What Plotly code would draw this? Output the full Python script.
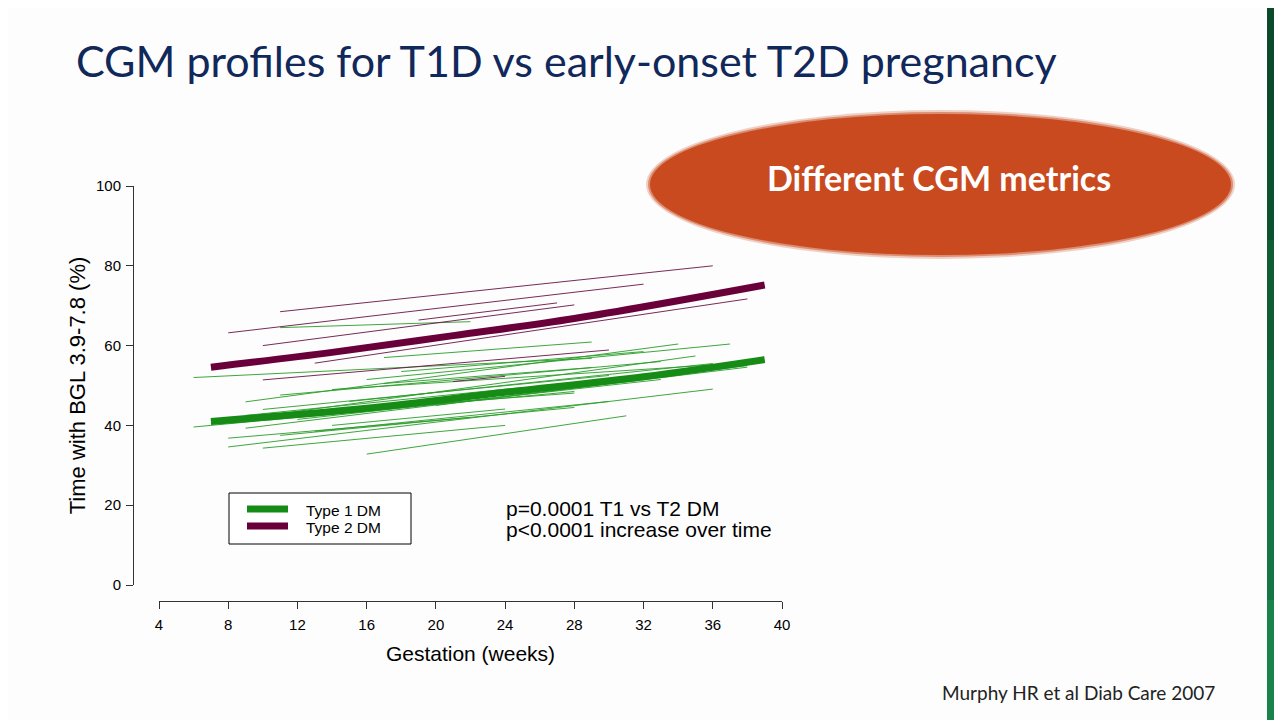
import plotly.graph_objects as go

# mean time in range (3.9-7.8 mmol/L) across gestation
t1_mean_weeks = [7, 16, 24, 32, 39]
t1_mean_tir = [41.0, 44.3, 48.3, 52.2, 56.5]
t2_mean_weeks = [7, 14, 21, 28, 39]
t2_mean_tir = [54.6, 58.3, 62.5, 66.8, 75.2]

# individual women: first / last week monitored and time in range at each end
t1_start_week = [6, 6, 9, 16, 11, 8, 8, 10, 16, 9, 7, 12, 14, 10, 12, 18, 11, 15, 9, 13, 17, 20, 14, 17, 11]
t1_start_tir = [52.0, 39.6, 45.9, 51.5, 47.6, 36.8, 34.6, 34.3, 32.8, 39.3, 40.5, 43.0, 49.0, 44.0, 41.5, 53.5, 37.5, 46.0, 42.5, 38.5, 50.5, 45.0, 40.0, 57.0, 64.5]
t1_end_week = [29, 28, 34, 37, 33, 22, 36, 24, 31, 38, 35, 28, 39, 30, 33, 32, 28, 36, 25, 30, 29, 38, 24, 29, 22]
t1_end_tir = [56.8, 48.5, 60.4, 60.4, 56.0, 42.0, 49.1, 40.0, 42.4, 54.6, 57.4, 48.1, 56.0, 52.5, 51.5, 58.5, 44.5, 55.5, 49.5, 46.0, 54.5, 55.0, 44.1, 60.9, 66.0]

t2_start_week = [11, 8, 10, 19, 10, 13, 21]
t2_start_tir = [68.5, 63.2, 60.0, 66.4, 51.4, 55.6, 51.0]
t2_end_week = [36, 32, 28, 27, 30, 38, 24]
t2_end_tir = [80.0, 75.4, 70.2, 70.7, 58.9, 71.7, 52.3]

y_ticks = [0, 20, 40, 60, 80, 100]
x_ticks = [4, 8, 12, 16, 20, 24, 28, 32, 36, 40]

GREEN = "#168c16"
MAROON = "#69003a"
AXIS_FONT = "Liberation Sans, Arial, sans-serif"

# the page puts the figure 8px in from the window corner, so work in
# window pixels and shift everything back by that amount
OFF = 8
W, H = 1282 - OFF, 720 - OFF


def px(x):
    return (x - OFF) / W


def py(y):
    return 1 - (y - OFF) / H


fig = go.Figure()

for sw, sv, ew, ev in zip(t1_start_week, t1_start_tir, t1_end_week, t1_end_tir):
    fig.add_trace(go.Scatter(x=[sw, ew], y=[sv, ev], mode="lines",
                             line=dict(color="#2a9e2a", width=1),
                             opacity=0.9, showlegend=False, hoverinfo="skip"))
for sw, sv, ew, ev in zip(t2_start_week, t2_start_tir, t2_end_week, t2_end_tir):
    fig.add_trace(go.Scatter(x=[sw, ew], y=[sv, ev], mode="lines",
                             line=dict(color="#6a1545", width=1),
                             opacity=0.9, showlegend=False, hoverinfo="skip"))

fig.add_trace(go.Scatter(x=t1_mean_weeks, y=t1_mean_tir, mode="lines",
                         line=dict(color=GREEN, width=7, shape="spline"),
                         name="Type 1 DM", showlegend=False))
fig.add_trace(go.Scatter(x=t2_mean_weeks, y=t2_mean_tir, mode="lines",
                         line=dict(color=MAROON, width=7, shape="spline"),
                         name="Type 2 DM", showlegend=False))


def paper_rect(x0, y0, x1, y1, **kw):
    return dict(type="rect", xref="paper", yref="paper",
                x0=px(x0), x1=px(x1), y0=py(y1), y1=py(y0), **kw)


def paper_oval(x0, y0, x1, y1, **kw):
    return dict(type="circle", xref="paper", yref="paper",
                x0=px(x0), x1=px(x1), y0=py(y1), y1=py(y0), **kw)


def label(text, x, y, size, xanchor="left", family=AXIS_FONT, color="black", **font_kw):
    return dict(text=text, xref="paper", yref="paper", x=px(x), y=py(y),
                xanchor=xanchor, yanchor="middle", showarrow=False,
                font=dict(family=family, size=size, color=color, **font_kw))


shapes = [paper_rect(0, 0, 1282, 720, fillcolor="#fdfdfd", line_width=0, layer="below")]
# right-hand strip of the slide frame, darker towards the top
frame_cols = ["#0b4a2a", "#0d522f", "#105d35", "#13693c", "#167544", "#1a824b"]
band = 720 / len(frame_cols)
for i, c in enumerate(frame_cols):
    shapes.append(paper_rect(1267, i * band, 1282, (i + 1) * band + 1,
                             fillcolor=c, line_width=0, layer="below"))

# callout ellipse with a soft edge
shapes += [
    paper_oval(646, 110, 1235, 259, fillcolor="rgba(201,74,31,0.25)", line_width=0, layer="below"),
    paper_oval(648, 112, 1233, 257, fillcolor="rgba(201,74,31,0.5)", line_width=0, layer="below"),
    paper_oval(650, 114, 1231, 255, fillcolor="#c94a1f", line_width=0, layer="below"),
]

# legend box drawn by hand to match the R legend
shapes += [
    paper_rect(229, 493, 411, 544, fillcolor="white", line=dict(color="black", width=1)),
    dict(type="line", xref="paper", yref="paper", x0=px(247), x1=px(288), y0=py(509), y1=py(509),
         line=dict(color=GREEN, width=7)),
    dict(type="line", xref="paper", yref="paper", x0=px(247), x1=px(288), y0=py(526), y1=py(526),
         line=dict(color=MAROON, width=7)),
]

annotations = [
    label("Different CGM metrics", 939, 177, 34, xanchor="center", family="Lato",
          color="white", weight="bold"),
    label("Type 1 DM", 304, 510, 15.5),
    label("Type 2 DM", 304, 527, 15.5),
    label("p=0.0001 T1 vs T2 DM", 504, 508, 21),
    label("p<0.0001 increase over time", 504, 529, 21),
    label("Murphy HR et al Diab Care 2007", 1217, 692, 19, xanchor="right",
          family="Lato", color="#222222"),
]

fig.update_layout(
    width=W, height=H,
    margin=dict(l=0, r=0, t=0, b=0, pad=0),
    paper_bgcolor="white", plot_bgcolor="rgba(0,0,0,0)",
    title=dict(text="CGM profiles for T1D vs early-onset T2D pregnancy",
               x=px(76), xanchor="left", xref="container",
               y=py(62), yanchor="middle", yref="container",
               font=dict(family="Lato", size=43, color="#11285a")),
    shapes=shapes,
    annotations=annotations,
    showlegend=False,
)

fig.update_xaxes(
    range=[4, 40], domain=[px(159), px(782)], anchor="free", position=py(601),
    tickvals=x_ticks, ticks="outside", ticklen=7, tickcolor="#333333",
    ticklabelstandoff=3, automargin=False,
    showline=True, linecolor="#333333", linewidth=1, showgrid=False, zeroline=False,
    tickfont=dict(family=AXIS_FONT, size=15, color="black"),
    title=dict(text="Gestation (weeks)", standoff=14,
               font=dict(family=AXIS_FONT, size=21, color="black")),
)
fig.update_yaxes(
    range=[0, 100], domain=[py(585), py(186)], anchor="free", position=px(133),
    tickvals=y_ticks, ticks="outside", ticklen=7, tickcolor="#333333",
    ticklabelstandoff=2, automargin=False,
    showline=True, linecolor="#333333", linewidth=1, showgrid=False, zeroline=False,
    tickfont=dict(family=AXIS_FONT, size=15, color="black"),
    title=dict(text="Time with BGL 3.9-7.8 (%)", standoff=3,
               font=dict(family=AXIS_FONT, size=22, color="black")),
)

fig.write_html("out.html")
